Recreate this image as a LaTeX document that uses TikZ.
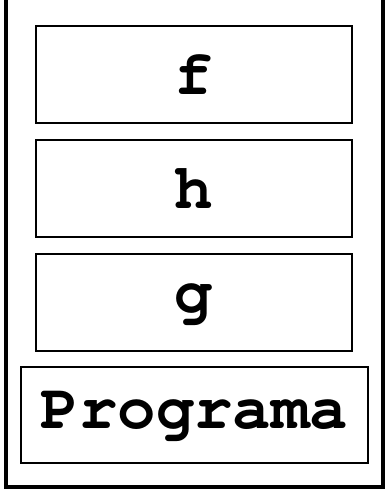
\documentclass[tikz,border=0pt]{standalone}
\usepackage[T1]{fontenc}
\usepackage{courier}
\tikzset{
  framebox/.style={draw, line width=2pt, minimum height=97pt, minimum width=316pt,
    inner sep=0pt, outer sep=0pt, anchor=north west},
  stackline/.style={line width=4pt}
}
\newcommand{\fn}[1]{\texttt{\bfseries #1}}

\begin{document}
\begin{tikzpicture}[x=1pt,y=-1pt]
      \useasboundingbox (0,0) rectangle (384,490);
      \fontsize{64}{72}\selectfont
      \node[framebox] (f) at (36,26) {\fn{f}};
      \node[framebox] (h) at (36,140) {\fn{h}};
      \node[framebox] (g) at (36,254) {\fn{g}};
      \node[framebox, minimum width=347pt, minimum height=96pt] (prog) at (21,367) {\fn{Programa}};
      % pila abierta arriba
      \coordinate (tl) at (5.5,0);
      \coordinate (tr) at (382.5,0);
      \draw[stackline] (tl) |- (382.5,487) -- (tr);
    \end{tikzpicture}
\end{document}
